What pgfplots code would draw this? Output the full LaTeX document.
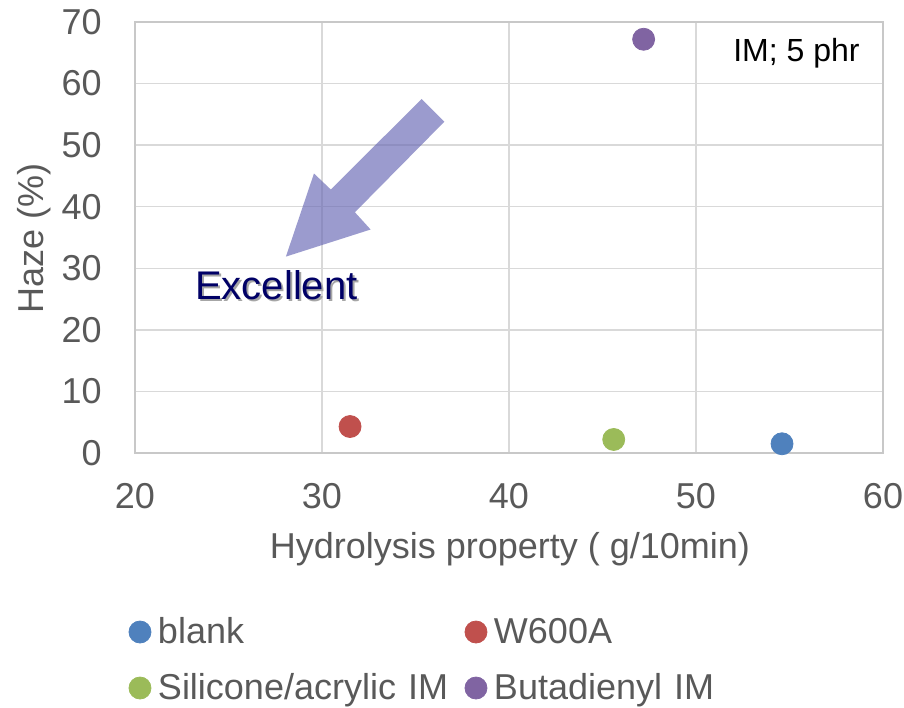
\documentclass[border=0pt]{standalone}
\usepackage{pgfplots}
\pgfplotsset{compat=1.18}
\usepackage{fontspec}
\setmainfont{Liberation Sans}

\definecolor{txtgray}{HTML}{595959}
\definecolor{gridc}{HTML}{D9D9D9}
\definecolor{axisc}{HTML}{C8C8C8}
\definecolor{cblue}{HTML}{4F81BD}
\definecolor{cred}{HTML}{C0504D}
\definecolor{cgreen}{HTML}{9BBB59}
\definecolor{cpurple}{HTML}{8064A2}
\definecolor{arrowc}{HTML}{6666B3}
\definecolor{navy}{HTML}{000066}

\begin{document}
\begin{tikzpicture}
\begin{axis}[
    at={(0,0)}, anchor=south west,
    scale only axis,
    width=374pt, height=215.5pt,
    xmin=20, xmax=60, ymin=0, ymax=70,
    xtick={20,30,40,50,60},
    ytick={0,10,20,30,40,50,60,70},
    grid=major,
    major grid style={draw=gridc, line width=0.75pt},
    axis line style={draw=axisc, line width=0.75pt},
    major tick length=0pt,
    tick style={draw=none},
    /pgf/number format/assume math mode=true,
    ticklabel style={font=\fontsize{18}{21.6}\selectfont, text=txtgray},
    xticklabel style={anchor=north, inner sep=0pt, yshift=-15pt},
    yticklabel style={anchor=east, inner sep=0pt, xshift=-16.5pt},
    xlabel={Hydrolysis property ( g/10min)},
    ylabel={Haze (\%)},
    label style={font=\fontsize{18}{21.6}\selectfont, text=txtgray, inner sep=0pt},
    xlabel style={at={(axis description cs:0.5013,-0.2459)}, anchor=base},
    ylabel style={at={(axis description cs:-0.12299,0.4988)}, anchor=base},
    only marks,
    legend image code/.code={\draw[#1] plot coordinates {(5.5pt,0pt)};},
    legend columns=2,
    legend cell align=left,
    legend style={
        at={(axis description cs:-0.00802,-0.3782)}, anchor=north west,
        draw=none, fill=none, inner sep=0pt, outer sep=0pt,
        /tikz/column sep=0pt, /tikz/row sep=12pt,
        /tikz/every odd column/.append style={column sep=3.5pt},
        font=\fontsize{18}{21.6}\selectfont, text=txtgray,
        nodes={inner sep=0pt, text width=153.5pt, align=left,
               text height=13.5pt, text depth=2.5pt},
    },
]
\addplot+[mark=*, mark size=5.5pt, mark options={draw=cblue, fill=cblue}] coordinates {(54.6,1.5)};
\addlegendentry{blank}
\addplot+[mark=*, mark size=5.5pt, mark options={draw=cred, fill=cred}] coordinates {(31.5,4.3)};
\addlegendentry{W600A}
\addplot+[mark=*, mark size=5.5pt, mark options={draw=cgreen, fill=cgreen}] coordinates {(45.6,2.2)};
\addlegendentry{Silicone/acrylic IM}
\addplot+[mark=*, mark size=5.5pt, mark options={draw=cpurple, fill=cpurple}] coordinates {(47.2,67.2)};
\addlegendentry{Butadienyl IM}

% arrow annotation
\fill[arrowc, opacity=0.65] (axis cs:35.33,57.5) -- (axis cs:36.54,53.8) -- (axis cs:31.76,39.1)
    -- (axis cs:32.60,36.3) -- (axis cs:28.07,31.9) -- (axis cs:29.57,45.4)
    -- (axis cs:30.47,42.8) -- cycle;
\node[anchor=base west, inner sep=0pt, text=black!35, font=\fontsize{20}{24}\selectfont]
    at ([xshift=1pt,yshift=-1pt]axis cs:23.2,25.0) {Excellent};
\node[anchor=base west, inner sep=0pt, text=navy, font=\fontsize{20}{24}\selectfont]
    at (axis cs:23.2,25.0) {Excellent};
\node[anchor=east, inner sep=0pt, font=\fontsize{16}{19.2}\selectfont]
    at (axis cs:58.77,65.0) {IM; 5 phr};
\end{axis}
\pgfresetboundingbox
\path (-67.5pt,-127pt) rectangle (384.5pt,226.5pt);
\end{tikzpicture}
\end{document}
